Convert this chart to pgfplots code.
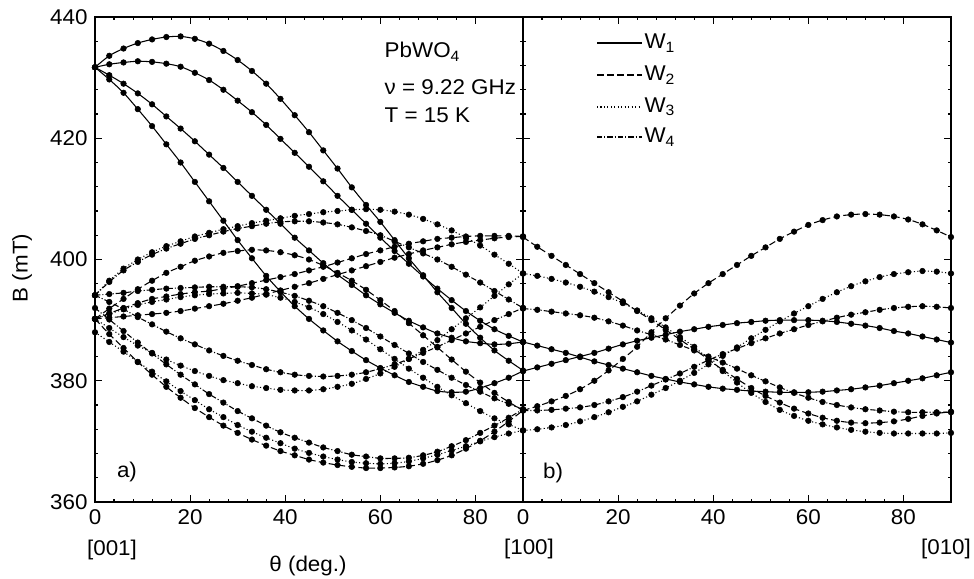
\documentclass[border=0pt]{standalone}
\usepackage{fontspec}
\setmainfont{Liberation Sans}[FakeStretch=1.05]
\usepackage{pgfplots}
\usepackage{pgfplotstable}
\pgfplotsset{compat=1.18}
\newcommand{\fs}{\fontsize{16pt}{19pt}\selectfont}

\pgfplotstableread{
t  S1    S2    S3    S4    D1    DD1   D2    DD2   D3    DD3   D4    DD4   DA1   DA2   DA3   DA4
0  431.7 431.7 431.7 431.7 394.1 394.1 390.2 394.1 390.2 394.1 388.0 392.0 390.2 390.2 390.2 390.2
3  433.6 432.2 430.4 429.7 396.5 396.3 391.0 394.3 388.7 393.0 386.4 390.1 391.1 390.4 391.9 387.7
6  434.8 432.5 429.0 427.5 398.5 398.2 391.8 394.5 387.2 391.8 384.8 388.2 392.0 390.6 393.5 385.4
9  435.7 432.7 427.4 424.8 400.0 399.6 392.5 394.8 385.8 390.5 383.1 386.3 392.8 390.8 395.1 383.1
12 436.3 432.6 425.6 422.0 401.2 400.8 393.0 395.0 384.6 389.3 381.5 384.5 393.5 391.0 396.5 381.0
15 436.7 432.3 423.6 419.0 402.2 401.8 393.4 395.2 383.5 388.1 379.9 382.7 393.9 391.2 397.8 379.0
18 436.8 431.8 421.6 416.0 403.0 402.6 393.8 395.3 382.5 387.0 378.3 381.0 394.3 391.5 398.8 377.2
21 436.4 430.8 419.5 412.8 403.8 403.4 394.1 395.4 381.6 386.0 376.8 379.4 394.6 391.9 399.8 375.5
24 435.6 429.6 417.3 409.6 404.4 404.0 394.3 395.5 380.8 385.0 375.3 377.8 394.8 392.3 400.5 374.0
27 434.4 428.0 415.1 406.4 405.0 404.6 394.4 395.5 380.1 384.1 374.0 376.4 395.2 392.7 401.1 372.6
30 432.9 426.2 412.8 403.2 405.5 405.1 394.5 395.5 379.6 383.3 372.7 375.0 395.6 393.2 401.4 371.4
33 431.1 424.3 410.5 400.2 406.0 405.5 394.4 395.4 379.1 382.6 371.6 373.8 396.1 393.7 401.6 370.3
36 429.0 422.2 408.2 397.3 406.4 405.9 394.2 395.1 378.8 381.9 370.6 372.6 396.6 394.3 401.5 369.3
39 426.5 419.9 405.9 394.7 406.8 406.2 393.7 394.6 378.5 381.4 369.7 371.5 397.1 394.9 401.2 368.4
42 423.8 417.6 403.6 392.3 407.2 406.3 393.0 394.0 378.4 381.0 368.8 370.6 397.6 395.5 400.7 367.7
45 421.0 415.3 401.5 390.2 407.5 406.3 392.1 393.2 378.4 380.8 368.1 369.8 398.2 396.1 400.0 367.0
48 418.0 412.9 399.4 388.3 407.8 406.1 391.0 392.3 378.6 380.7 367.5 369.0 398.8 396.8 399.0 366.5
51 415.0 410.5 397.5 386.5 408.0 405.8 389.7 391.2 379.0 380.8 367.0 368.4 399.5 397.5 397.8 366.1
54 411.9 408.2 395.8 384.9 408.2 405.3 388.3 390.0 379.5 381.0 366.6 367.8 400.2 398.2 396.5 365.8
57 409.0 405.9 394.1 383.4 408.3 404.7 386.8 388.7 380.3 381.4 366.4 367.5 400.9 398.9 395.0 365.6
60 406.2 403.6 392.6 382.1 408.2 404.0 385.2 387.3 381.2 382.0 366.3 367.2 401.5 399.6 393.3 365.6
63 403.2 401.4 391.2 380.9 407.9 403.0 383.6 385.9 382.3 382.7 366.4 367.2 402.1 400.3 391.5 365.7
66 400.2 399.3 389.9 379.8 407.4 402.0 382.0 384.5 383.6 383.6 366.7 367.3 402.6 400.9 389.5 365.9
69 397.4 397.2 388.8 379.0 406.7 401.0 380.5 383.1 385.1 384.6 367.2 367.7 403.0 401.5 387.5 366.3
72 394.6 395.2 387.8 378.3 405.8 400.0 379.0 381.8 386.7 385.6 367.8 368.3 403.4 402.0 385.5 366.9
75 392.0 393.3 387.1 378.1 404.8 398.8 377.6 380.5 388.5 386.7 368.5 369.2 403.6 402.5 383.5 367.7
78 389.4 391.5 386.5 378.2 403.6 397.5 376.3 379.3 390.3 387.8 369.2 370.2 403.8 402.9 381.5 368.8
81 387.1 389.9 386.2 378.8 402.3 396.2 375.0 378.2 392.1 388.9 370.0 371.4 403.9 403.2 379.7 370.1
84 385.0 388.5 386.0 379.6 400.8 394.8 373.8 377.1 394.0 390.0 370.7 372.6 403.9 403.5 378.0 371.6
87 383.3 387.4 386.1 380.5 399.3 393.4 372.8 376.2 395.9 391.0 371.3 373.9 403.9 403.7 376.5 373.3
90 381.7 386.4 386.4 381.6 397.7 392.0 371.8 375.3 397.7 392.0 371.8 375.3 403.8 403.8 375.1 375.1
}\tabA

\pgfplotstableread{
t  PS1   PS2   PD1   PD2   PDD1  PDD2  PDA1  PDA2
0  386.4 381.6 397.7 371.8 391.9 375.1 403.7 375.1
3  385.8 382.2 397.3 372.0 391.7 375.1 402.1 375.8
6  385.2 382.8 396.8 372.3 391.4 375.2 400.6 376.6
9  384.6 383.4 396.2 372.7 391.1 375.4 399.1 377.5
12 383.9 384.0 395.5 373.3 390.8 375.6 397.6 378.6
15 383.2 384.6 394.7 374.0 390.4 376.0 396.1 380.0
18 382.6 385.3 393.8 374.8 389.8 376.6 394.6 381.7
21 382.0 386.0 392.8 375.7 389.1 377.3 393.1 383.6
24 381.4 386.6 391.6 376.6 388.3 378.2 391.5 385.6
27 380.8 387.1 390.3 377.7 387.6 379.2 390.0 388.0
30 380.3 387.6 388.8 378.8 386.8 380.2 388.4 390.3
33 379.8 388.1 387.2 380.0 385.9 381.2 386.8 392.4
36 379.4 388.5 385.6 381.3 385.0 382.3 385.2 394.4
39 379.0 388.9 383.6 382.7 384.0 383.4 383.5 396.1
42 378.7 389.2 381.6 384.1 383.0 384.4 381.8 397.6
45 378.5 389.5 379.7 385.5 382.0 385.3 380.3 399.1
48 378.3 389.7 378.0 387.0 380.9 386.2 378.8 400.6
51 378.2 389.9 376.5 388.4 379.9 387.0 377.5 402.0
54 378.1 390.0 375.2 389.8 378.9 387.8 376.4 403.4
57 378.1 390.0 374.2 391.1 378.0 388.5 375.4 404.6
60 378.1 390.0 373.4 392.3 377.2 389.2 374.6 405.7
63 378.2 389.9 372.8 393.5 376.5 389.8 373.9 406.5
66 378.4 389.7 372.3 394.6 376.0 390.4 373.4 407.1
69 378.6 389.4 371.9 395.6 375.6 390.9 373.1 407.4
72 378.9 389.1 371.6 396.4 375.3 391.3 373.0 407.5
75 379.2 388.7 371.4 397.1 375.1 391.7 373.1 407.4
78 379.6 388.2 371.3 397.6 374.9 392.0 373.3 407.1
81 380.0 387.8 371.3 397.9 374.8 392.2 373.7 406.6
84 380.4 387.3 371.3 398.1 374.8 392.3 374.2 405.8
87 380.9 386.8 371.3 398.0 374.8 392.2 374.6 404.8
90 381.4 386.3 371.4 397.7 374.8 392.0 374.9 403.7
}\tabB

\tikzset{
  wone/.style={black, line width=0.8pt, solid},
  wtwo/.style={black, line width=0.8pt, dash pattern=on 5pt off 2.5pt},
  wthree/.style={black, line width=0.8pt, dash pattern=on 0.8pt off 1.8pt},
  wfour/.style={black, line width=0.8pt, dash pattern=on 4pt off 1.5pt on 0.8pt off 1.5pt},
  dots/.style={only marks, mark=*, mark size=2.1pt, black},
}

\pgfplotsset{
  panel/.style={
    scale only axis, width=321pt, height=363.75pt,
    xmin=0, xmax=90, ymin=360, ymax=440,
    xtick={0,20,40,60,80}, ytick={360,380,400,420,440},
    minor x tick num=4, minor y tick num=4,
    tick align=inside, major tick length=5pt, minor tick length=2.5pt,
    axis line style={line width=1.1pt},
    every tick/.style={black, line width=0.8pt},
    tick label style={font=\fs},
    xticklabel style={yshift=-2pt},
    yticklabel style={xshift=-2pt},
    /pgf/number format/assume math mode=true,
    anchor=south west,
  },
}

\begin{document}
\begin{tikzpicture}
\useasboundingbox (-71.25pt,-57pt) rectangle (659.25pt,376.5pt);

\begin{axis}[panel, at={(0pt,0pt)}]
  \addplot[wone, smooth] table[x=t,y=S1]{\tabA};
  \addplot[wone, smooth] table[x=t,y=S2]{\tabA};
  \addplot[wone, smooth] table[x=t,y=S3]{\tabA};
  \addplot[wone, smooth] table[x=t,y=S4]{\tabA};
  \addplot[wthree, smooth] table[x=t,y=D1]{\tabA};
  \addplot[wthree, smooth] table[x=t,y=D2]{\tabA};
  \addplot[wthree, smooth] table[x=t,y=D3]{\tabA};
  \addplot[wthree, smooth] table[x=t,y=D4]{\tabA};
  \addplot[wfour, smooth] table[x=t,y=DD1]{\tabA};
  \addplot[wfour, smooth] table[x=t,y=DD2]{\tabA};
  \addplot[wfour, smooth] table[x=t,y=DD3]{\tabA};
  \addplot[wfour, smooth] table[x=t,y=DD4]{\tabA};
  \addplot[wtwo, smooth] table[x=t,y=DA1]{\tabA};
  \addplot[wtwo, smooth] table[x=t,y=DA2]{\tabA};
  \addplot[wtwo, smooth] table[x=t,y=DA3]{\tabA};
  \addplot[wtwo, smooth] table[x=t,y=DA4]{\tabA};
  \addplot[dots] table[x=t,y=S1]{\tabA};
  \addplot[dots] table[x=t,y=S2]{\tabA};
  \addplot[dots] table[x=t,y=S3]{\tabA};
  \addplot[dots] table[x=t,y=S4]{\tabA};
  \addplot[dots] table[x=t,y=D1]{\tabA};
  \addplot[dots] table[x=t,y=D2]{\tabA};
  \addplot[dots] table[x=t,y=D3]{\tabA};
  \addplot[dots] table[x=t,y=D4]{\tabA};
  \addplot[dots] table[x=t,y=DD1]{\tabA};
  \addplot[dots] table[x=t,y=DD2]{\tabA};
  \addplot[dots] table[x=t,y=DD3]{\tabA};
  \addplot[dots] table[x=t,y=DD4]{\tabA};
  \addplot[dots] table[x=t,y=DA1]{\tabA};
  \addplot[dots] table[x=t,y=DA2]{\tabA};
  \addplot[dots] table[x=t,y=DA3]{\tabA};
  \addplot[dots] table[x=t,y=DA4]{\tabA};
\end{axis}

\begin{axis}[panel, at={(321pt,0pt)}, yticklabels={}]
  \addplot[wone, smooth] table[x=t,y=PS1]{\tabB};
  \addplot[wone, smooth] table[x=t,y=PS2]{\tabB};
  \addplot[wthree, smooth] table[x=t,y=PD1]{\tabB};
  \addplot[wthree, smooth] table[x=t,y=PD2]{\tabB};
  \addplot[wfour, smooth] table[x=t,y=PDD1]{\tabB};
  \addplot[wfour, smooth] table[x=t,y=PDD2]{\tabB};
  \addplot[wtwo, smooth] table[x=t,y=PDA1]{\tabB};
  \addplot[wtwo, smooth] table[x=t,y=PDA2]{\tabB};
  \addplot[dots] table[x=t,y=PS1]{\tabB};
  \addplot[dots] table[x=t,y=PS2]{\tabB};
  \addplot[dots] table[x=t,y=PD1]{\tabB};
  \addplot[dots] table[x=t,y=PD2]{\tabB};
  \addplot[dots] table[x=t,y=PDD1]{\tabB};
  \addplot[dots] table[x=t,y=PDD2]{\tabB};
  \addplot[dots] table[x=t,y=PDA1]{\tabB};
  \addplot[dots] table[x=t,y=PDA2]{\tabB};
\end{axis}

\node[font=\fs] at (12.75pt,-36pt) {[001]};
\node[font=\fs] at (325.5pt,-35.25pt) {[100]};
\node[font=\fs] at (638.25pt,-35.25pt) {[010]};
\node[font=\fs] at (159.75pt,-48pt) {θ (deg.)};
\node[font=\fs, rotate=90] at (-54.75pt,175.5pt) {B (mT)};
\node[font=\fs, anchor=base west] at (213.75pt,333pt) {PbWO\textsubscript{4}};
\node[font=\fs, anchor=base west] at (213.75pt,305.25pt) {ν = 9.22 GHz};
\node[font=\fs, anchor=base west] at (213.75pt,284.25pt) {T = 15 K};
\node[font=\fs] at (24pt,22.5pt) {a)};
\node[font=\fs] at (343.5pt,21.75pt) {b)};

\draw[wone]   (376.5pt,344.25pt) -- (410.25pt,344.25pt);
\draw[wtwo]   (376.5pt,320.25pt) -- (410.25pt,320.25pt);
\draw[wthree] (376.5pt,296.25pt) -- (410.25pt,296.25pt);
\draw[wfour]  (376.5pt,273.75pt) -- (410.25pt,273.75pt);
\node[font=\fs, anchor=west, inner sep=1pt] at (411pt,344.25pt) {W\textsubscript{1}};
\node[font=\fs, anchor=west, inner sep=1pt] at (411pt,320.25pt) {W\textsubscript{2}};
\node[font=\fs, anchor=west, inner sep=1pt] at (411pt,296.25pt) {W\textsubscript{3}};
\node[font=\fs, anchor=west, inner sep=1pt] at (411pt,273.75pt) {W\textsubscript{4}};
\end{tikzpicture}
\end{document}
